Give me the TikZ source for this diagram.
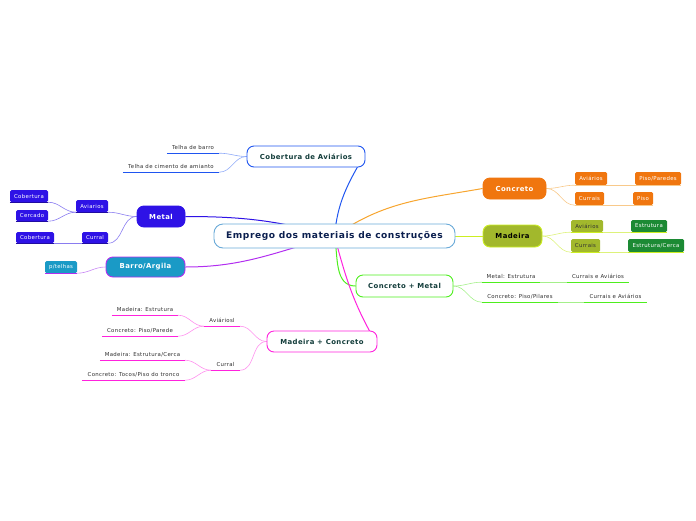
\documentclass[tikz,border=0pt]{standalone}
\usepackage{fontspec}
\setmainfont{DejaVu Sans}[LetterSpace=6]
\usetikzlibrary{backgrounds}

\definecolor{navy}{HTML}{0B1F4F}
\definecolor{topictext}{HTML}{123C3A}
\definecolor{leaftext}{HTML}{2E2E2E}
\definecolor{centralline}{HTML}{6AAAD8}
\definecolor{cobline}{HTML}{1F55F0}
\definecolor{coblight}{HTML}{8FAAF8}
\definecolor{metalfill}{HTML}{2E12E6}
\definecolor{metallight}{HTML}{8A7CF0}
\definecolor{barrofill}{HTML}{1A9AC6}
\definecolor{barroline}{HTML}{B22EF0}
\definecolor{barrolight}{HTML}{C98AF5}
\definecolor{concfill}{HTML}{F0760F}
\definecolor{concline}{HTML}{F7A52E}
\definecolor{conclight}{HTML}{F8C98A}
\definecolor{madfill}{HTML}{A2B82C}
\definecolor{madline}{HTML}{CCEE22}
\definecolor{madlight}{HTML}{DDF27A}
\definecolor{estfill}{HTML}{1C8A34}
\definecolor{cmline}{HTML}{4EEE1E}
\definecolor{cmlight}{HTML}{A4F08A}
\definecolor{mcline}{HTML}{FF22DD}
\definecolor{mclight}{HTML}{FF90EE}

\begin{document}
\begin{tikzpicture}[x=1pt, y=-1pt,
    topic/.style={draw, line width=0.9pt, rounded corners=7pt, fill=white, inner sep=0pt,
        text=topictext, font=\bfseries\fontsize{6.9}{8}\selectfont},
    tag/.style={rounded corners=1.5pt, inner sep=0pt, text=white, minimum height=12,
        font=\fontsize{5.4}{6}\selectfont},
    leaf/.style={inner sep=0pt, minimum height=11, text=leaftext, font=\fontsize{5.4}{6}\selectfont},
    link/.style={line width=0.6pt}]
    \useasboundingbox (0,0) rectangle (696,520);

    % central topic
    \node[topic, draw=centralline, text=navy, rounded corners=9pt, minimum width=241, minimum height=24,
        font=\bfseries\fontsize{9.1}{11}\selectfont] (central) at (334.5,236) {Emprego dos materiais de construções};

    % main topics
    \node[topic, draw=cobline, minimum width=118, minimum height=21] (cob) at (306,156.5) {Cobertura de Aviários};
    \node[topic, draw=metalfill, fill=metalfill, text=white, minimum width=48, minimum height=21] (metal) at (161,216.5) {Metal};
    \node[topic, draw=barroline, fill=barrofill, text=white, minimum width=79, minimum height=20] (barro) at (145.5,267) {Barro/Argila};
    \node[topic, draw=concfill, fill=concfill, text=white, minimum width=63, minimum height=21] (concreto) at (514.5,188.5) {Concreto};
    \node[topic, draw=madline, fill=madfill, text=black, minimum width=59, minimum height=22] (madeira) at (512.5,236) {Madeira};
    \node[topic, draw=cmline, minimum width=97, minimum height=22] (cm) at (404.5,286) {Concreto + Metal};
    \node[topic, draw=mcline, minimum width=110, minimum height=21] (mc) at (322,341.5) {Madeira + Concreto};

    % Cobertura de Aviarios
    \node[leaf, minimum width=52] (tbarro) at (193,147.5) {Telha de barro};
    \node[leaf, minimum width=96] (tcim) at (171,166.5) {Telha de cimento de amianto};

    % Metal
    \node[tag, fill=metalfill, minimum width=32] (mav) at (92,206) {Aviarios};
    \node[tag, fill=metalfill, minimum width=26, minimum height=11] (mcur) at (95,237.5) {Curral};
    \node[tag, fill=metalfill, minimum width=38] (mcob) at (29,196) {Cobertura};
    \node[tag, fill=metalfill, minimum width=32, minimum height=11] (mcer) at (32,215.5) {Cercado};
    \node[tag, fill=metalfill, minimum width=38, minimum height=11] (mcob2) at (35,237.5) {Cobertura};

    % Barro/Argila
    \node[tag, fill=barrofill, minimum width=32] (ptel) at (61,267) {p/telhas};

    % Concreto
    \node[tag, fill=concfill, minimum width=32, minimum height=13] (cav) at (591,178.5) {Aviários};
    \node[tag, fill=concfill, minimum width=46, minimum height=13] (cpar) at (658,178.5) {Piso/Paredes};
    \node[tag, fill=concfill, minimum width=29, minimum height=13] (ccur) at (589.5,198.5) {Currais};
    \node[tag, fill=concfill, minimum width=20, minimum height=13] (cpiso) at (643,198.5) {Piso};

    % Madeira
    \node[tag, fill=madfill, text=black!80, minimum width=32] (dav) at (587,226) {Aviários};
    \node[tag, fill=estfill, minimum width=36] (dest) at (649,226) {Estrutura};
    \node[tag, fill=madfill, text=black!80, minimum width=29, minimum height=13] (dcur) at (585.5,245.5) {Currais};
    \node[tag, fill=estfill, minimum width=56, minimum height=13] (dcer) at (656,245.5) {Estrutura/Cerca};

    % Concreto + Metal
    \node[leaf, minimum width=58] (cmest) at (511,276.5) {Metal: Estrutura};
    \node[leaf, minimum width=62] (cmca) at (598,276.5) {Currais e Aviários};
    \node[leaf, minimum width=76] (cmpil) at (520,296.5) {Concreto: Piso/Pilares};
    \node[leaf, minimum width=63] (cmca2) at (615.5,296.5) {Currais e Aviários};

    % Madeira + Concreto
    \node[leaf, minimum width=36] (mcav) at (222,320.5) {Aviáriosl};
    \node[leaf, minimum width=29] (mccur) at (225.5,364.5) {Curral};
    \node[leaf, minimum width=66] (mcest) at (145,309.5) {Madeira: Estrutura};
    \node[leaf, minimum width=76] (mcpar) at (140,330.5) {Concreto: Piso/Parede};
    \node[leaf, minimum width=85] (mccer) at (142.5,354.5) {Madeira: Estrutura/Cerca};
    \node[leaf, minimum width=103] (mctoc) at (133.5,374.5) {Concreto: Tocos/Piso do tronco};

    % underlines
    \foreach \n/\c in {tbarro/cobline, tcim/cobline, mav/metalfill!70!black, mcur/metalfill!70!black,
        mcob/metalfill!70!black, mcer/metalfill!70!black, mcob2/metalfill!70!black, ptel/barroline,
        cav/conclight, cpar/conclight, ccur/conclight, cpiso/conclight,
        dav/madline, dest/madline, dcur/madline, dcer/madline,
        cmest/cmline, cmca/cmline, cmpil/cmline, cmca2/cmline,
        mcav/mcline, mccur/mcline, mcest/mcline, mcpar/mcline, mccer/mcline, mctoc/mcline}
        \draw[line width=1.1pt, \c] (\n.south west) -- (\n.south east);

    \begin{pgfonlayer}{background}
        % branches from the centre
        \draw[link, line width=1pt, cobline] (central.center) to[out=85, in=-120] ([xshift=-2pt]cob.east);
        \draw[link, line width=1pt, metalfill] (central.center) to[out=165, in=0] (metal.east);
        \draw[link, line width=1pt, barroline] (central.center) to[out=195, in=0] (barro.east);
        \draw[link, line width=1pt, concline] (central.center) to[out=35, in=190] (concreto.west);
        \draw[link, line width=1pt, madline] (central.center) -- (madeira.west);
        \draw[link, line width=1pt, cmline] (central.center) to[out=-80, in=180] (cm.west);
        \draw[link, line width=1pt, mcline] (central.center) to[out=-75, in=120] ([xshift=-2pt]mc.east);

        % sub branches
        \foreach \a in {tbarro, tcim}
            \draw[link, coblight] (cob.west) to[out=180, in=0] (\a.south east);
        \foreach \a in {mav, mcur}
            \draw[link, metallight] (metal.west) to[out=180, in=0] (\a.south east);
        \foreach \a in {mcob, mcer}
            \draw[link, metallight] (mav.south west) to[out=180, in=0] (\a.south east);
        \draw[link, metallight] (mcur.south west) -- (mcob2.south east);
        \draw[link, barrolight] (barro.west) to[out=180, in=0] (ptel.south east);

        \foreach \a/\b in {cav/cpar, ccur/cpiso} {
            \draw[link, conclight] (concreto.east) to[out=0, in=180] (\a.south west);
            \draw[link, conclight] (\a.south east) -- (\b.south west);
        }
        \foreach \a/\b in {dav/dest, dcur/dcer} {
            \draw[link, madlight] (madeira.east) to[out=0, in=180] (\a.south west);
            \draw[link, madlight] (\a.south east) -- (\b.south west);
        }
        \foreach \a/\b in {cmest/cmca, cmpil/cmca2} {
            \draw[link, cmlight] (cm.east) to[out=0, in=180] (\a.south west);
            \draw[link, cmlight] (\a.south east) -- (\b.south west);
        }
        \foreach \a in {mcav, mccur}
            \draw[link, mclight] (mc.west) to[out=180, in=0] (\a.south east);
        \foreach \a in {mcest, mcpar}
            \draw[link, mclight] (mcav.south west) to[out=180, in=0] (\a.south east);
        \foreach \a in {mccer, mctoc}
            \draw[link, mclight] (mccur.south west) to[out=180, in=0] (\a.south east);
    \end{pgfonlayer}
\end{tikzpicture}
\end{document}
